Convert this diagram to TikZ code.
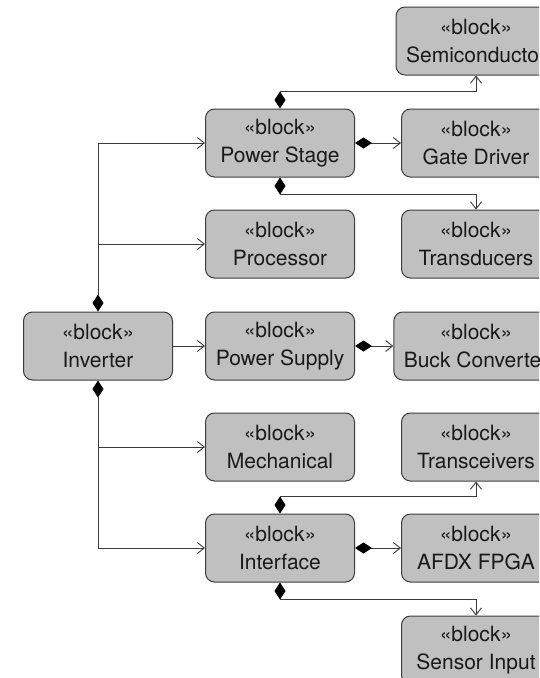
\documentclass[tikz,border=0pt]{standalone}
\usepackage{fontspec}
\setmainfont{TeX Gyre Heros}
\usetikzlibrary{arrows.meta}
\definecolor{blockfill}{RGB}{192,192,192}
\definecolor{edge}{RGB}{60,60,60}
\definecolor{ink}{RGB}{25,25,25}
\tikzset{
  x=1pt, y=-1pt,
  block/.style={draw=edge, fill=blockfill, rounded corners=9pt, line width=1pt,
    minimum width=149pt, minimum height=68pt, inner xsep=10pt, align=center,
    text=ink, font=\fontsize{21pt}{27.5pt}\selectfont},
  wire/.style={draw=edge, line width=0.9pt},
  assoc/.style={wire, -{Straight Barb[length=7pt,width=11pt]}},
  owner/.style={wire, {Diamond[length=17pt,width=11pt,color=black]}-},
  comp/.style={wire, {Diamond[length=17pt,width=11pt,color=black]}-{Straight Barb[length=7pt,width=11pt]}},
}
\begin{document}
\begin{tikzpicture}
  \useasboundingbox (0,0) rectangle (539,678);
  \fill[white] (0,0) rectangle (539,678);
  \clip (0,0) rectangle (539,678);

  % blocks
  \node[block] (semi) at (476,41)  {«block»\\Semiconductor};
  \node[block] (ps)   at (280,143) {«block»\\Power Stage};
  \node[block] (gd)   at (476,143) {«block»\\Gate Driver};
  \node[block] (proc) at (280,244) {«block»\\Processor};
  \node[block] (trd)  at (476,244) {«block»\\Transducers};
  \node[block] (inv)  at (98,346)  {«block»\\Inverter};
  \node[block] (psu)  at (280,346) {«block»\\Power Supply};
  \node[block] (buck) at (476,346) {«block»\\Buck Converter};
  \node[block] (mech) at (280,447) {«block»\\Mechanical};
  \node[block] (trx)  at (476,447) {«block»\\Transceivers};
  \node[block] (intf) at (280,548) {«block»\\Interface};
  \node[block] (afdx) at (476,548) {«block»\\AFDX FPGA};
  \node[block] (sens) at (476,650) {«block»\\Sensor Input};

  % branch points on the inverter trunk
  \coordinate (psin)   at (98,143);
  \coordinate (procin) at (98,244);
  \coordinate (mechin) at (98,447);
  \coordinate (intfin) at (98,548);

  % inverter composition
  \draw[owner] (inv.north) -- (psin);
  \draw[assoc] (psin) -- (ps.west);
  \draw[assoc] (procin) -- (proc.west);
  \draw[assoc] (inv.east) -- (psu.west);
  \draw[owner] (inv.south) -- (intfin);
  \draw[assoc] (mechin) -- (mech.west);
  \draw[assoc] (intfin) -- (intf.west);

  % power stage parts
  \draw[comp] (ps.north) -- ++(0,-17) -| (semi.south);
  \draw[comp] (ps.east) -- (gd.west);
  \draw[comp] (ps.south) -- ++(0,17) -| (trd.north);

  % power supply parts
  \draw[comp] (psu.east) -- (buck.west);

  % interface parts
  \draw[comp] (intf.north) -- ++(0,-17) -| (trx.south);
  \draw[comp] (intf.east) -- (afdx.west);
  \draw[comp] (intf.south) -- ++(0,17) -| (sens.north);
\end{tikzpicture}
\end{document}
